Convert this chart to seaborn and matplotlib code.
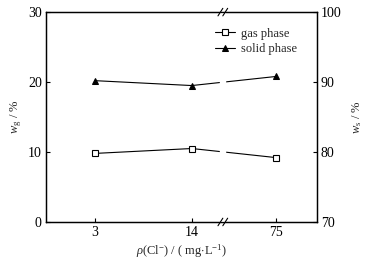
import matplotlib
matplotlib.use("Agg")
import matplotlib.pyplot as plt
import seaborn as sns
import pandas as pd

# data
cl_labels = ["3", "14", "75"]
cl_pos = [0, 1, 1.87]          # broken x scale: 14 -> 75 is compressed
gas_phase = [9.8, 10.5, 9.2]    # w_g, left axis
solid_phase = [90.2, 89.5, 90.8]  # w_s, right axis
BREAK_X = 1.32

sns.set_theme(style="ticks")
plt.rcParams["font.family"] = ["Liberation Serif", "DejaVu Serif"]
plt.rcParams["mathtext.fontset"] = "custom"
plt.rcParams["mathtext.rm"] = "Liberation Serif"
plt.rcParams["mathtext.it"] = "Liberation Serif:italic"
plt.rcParams["font.size"] = 9

df = pd.DataFrame({"x": cl_pos, "gas": gas_phase, "solid": solid_phase})

fig = plt.figure(figsize=(3.65, 2.63), dpi=100)
ax = fig.add_axes([0.126, 0.156, 0.742, 0.798])
ax2 = ax.twinx()

sns.lineplot(data=df, x="x", y="gas", ax=ax, color="black", lw=0.8,
             marker="s", markersize=4.5, markerfacecolor="white",
             markeredgecolor="black", markeredgewidth=0.8, label="gas phase",
             legend=False)
sns.lineplot(data=df, x="x", y="solid", ax=ax2, color="black", lw=0.8,
             marker="^", markersize=5, markerfacecolor="black",
             markeredgecolor="black", label="solid phase", legend=False)

ax.set_xlim(-0.505, 2.29)
ax.set_ylim(0, 30)
ax2.set_ylim(70, 100)
ax.set_yticks([0, 10, 20, 30])
ax2.set_yticks([70, 80, 90, 100])
ax.set_xticks(cl_pos)
ax.set_xticklabels(cl_labels)

for a in (ax, ax2):
    a.tick_params(direction="in", length=3, width=0.8, labelsize=10,
                  colors="black", pad=3)
    for s in a.spines.values():
        s.set_linewidth(0.9)
        s.set_color("black")
        s.set_visible(True)

ax.set_xlabel(r"$\it{\rho}$(Cl$^{-}$) / ( mg$\cdot$L$^{-1}$)", fontsize=9, labelpad=2)
ax.set_ylabel(r"$\it{w}_{\rm g}$ / %", fontsize=9, labelpad=3)
ax2.set_ylabel(r"$\it{w}_{\rm s}$ / %", fontsize=9, labelpad=6, rotation=90)

# axis break: white gap through the lines, then "//" marks on the spines
ax2.axvspan(BREAK_X - 0.025, BREAK_X + 0.025, color="white", zorder=2.2)
tr = ax2.get_xaxis_transform()
for yb in (0, 1):
    for dx in (-0.025, 0.025):
        ax2.plot([BREAK_X + dx - 0.025, BREAK_X + dx + 0.025],
                 [yb - 0.018, yb + 0.018], transform=tr, color="black",
                 lw=0.8, clip_on=False, zorder=4)

h1, l1 = ax.get_legend_handles_labels()
h2, l2 = ax2.get_legend_handles_labels()
ax2.legend(h1 + h2, l1 + l2, loc="upper right", bbox_to_anchor=(0.97, 0.98),
           frameon=False, fontsize=9, handlelength=1.6, handletextpad=0.5,
           labelspacing=0.3)

fig.savefig("out.png", dpi=100)
